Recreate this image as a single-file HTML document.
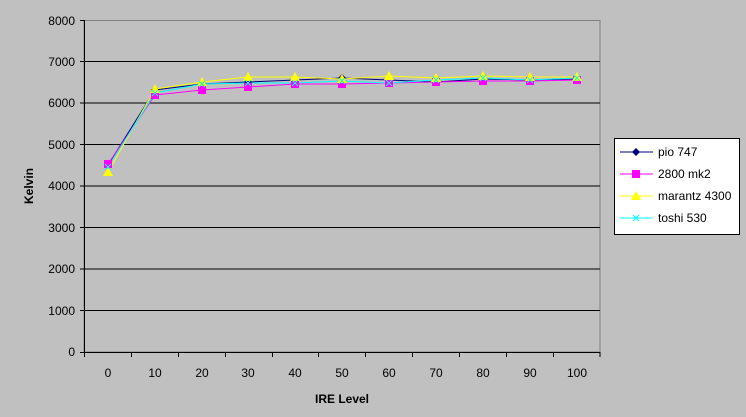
<!DOCTYPE html>
<html><head><meta charset="utf-8"><style>
html,body{margin:0;padding:0;background:#c0c0c0;}
svg{display:block;font-family:"Liberation Sans",Arial,sans-serif;}
</style></head><body>
<svg width="746" height="417" viewBox="0 0 746 417" xmlns="http://www.w3.org/2000/svg">
<rect width="746" height="417" fill="#c0c0c0"/>
<rect x="84" y="20.5" width="516" height="331.5" fill="#c0c0c0" stroke="#808080" stroke-width="1"/>
<g stroke="#000" stroke-width="1">
<line x1="84" y1="61.5" x2="600" y2="61.5"/>
<line x1="84" y1="103" x2="600" y2="103"/>
<line x1="84" y1="144.5" x2="600" y2="144.5"/>
<line x1="84" y1="186" x2="600" y2="186"/>
<line x1="84" y1="227.5" x2="600" y2="227.5"/>
<line x1="84" y1="269" x2="600" y2="269"/>
<line x1="84" y1="310.5" x2="600" y2="310.5"/>
<line x1="84.5" y1="20" x2="84.5" y2="352"/>
<line x1="84" y1="352.5" x2="600" y2="352.5"/>
<g>
<line x1="80" y1="20.5" x2="84" y2="20.5"/><line x1="80" y1="61.5" x2="84" y2="61.5"/><line x1="80" y1="103" x2="84" y2="103"/><line x1="80" y1="144.5" x2="84" y2="144.5"/><line x1="80" y1="186" x2="84" y2="186"/><line x1="80" y1="227.5" x2="84" y2="227.5"/><line x1="80" y1="269" x2="84" y2="269"/><line x1="80" y1="310.5" x2="84" y2="310.5"/><line x1="80" y1="352.5" x2="84" y2="352.5"/>
</g>
<g>
<line x1="84.5" y1="352" x2="84.5" y2="357"/><line x1="131.5" y1="352" x2="131.5" y2="357"/><line x1="178.5" y1="352" x2="178.5" y2="357"/><line x1="225.5" y1="352" x2="225.5" y2="357"/><line x1="272.5" y1="352" x2="272.5" y2="357"/><line x1="318.5" y1="352" x2="318.5" y2="357"/><line x1="365.5" y1="352" x2="365.5" y2="357"/><line x1="412.5" y1="352" x2="412.5" y2="357"/><line x1="459.5" y1="352" x2="459.5" y2="357"/><line x1="506.5" y1="352" x2="506.5" y2="357"/><line x1="553.5" y1="352" x2="553.5" y2="357"/><line x1="600" y1="352" x2="600" y2="357"/>
</g>
</g>
<g font-size="12" fill="#000" text-anchor="end">
<text x="75" y="25">8000</text><text x="75" y="66">7000</text><text x="75" y="107">6000</text><text x="75" y="149">5000</text><text x="75" y="190">4000</text><text x="75" y="232">3000</text><text x="75" y="273">2000</text><text x="75" y="315">1000</text><text x="75" y="356">0</text>
</g>
<g font-size="12" fill="#000" text-anchor="middle">
<text x="108" y="377">0</text><text x="155" y="377">10</text><text x="202" y="377">20</text><text x="248" y="377">30</text><text x="295" y="377">40</text><text x="342" y="377">50</text><text x="389" y="377">60</text><text x="436" y="377">70</text><text x="483" y="377">80</text><text x="530" y="377">90</text><text x="577" y="377">100</text>
</g>
<text x="342" y="403" font-size="12" font-weight="bold" text-anchor="middle">IRE Level</text>
<text transform="translate(33,186) rotate(-90)" font-size="12" font-weight="bold" text-anchor="middle">Kelvin</text>

<!-- series -->
<polyline fill="none" stroke="#000080" stroke-width="1" points="108,165 155,90 202,84 248,82 295,80 342,78 389,80 436,82 483,79 530,80 577,79"/>
<polyline fill="none" stroke="#ff00ff" stroke-width="1" points="108,164 155,95 202,90 248,87 295,84 342,84 389,83 436,82 483,81 530,81 577,80"/>
<polyline fill="none" stroke="#ffff00" stroke-width="1" points="108,172 155,89 202,82 248,77 295,77 342,79 389,76 436,78 483,76 530,77 577,77"/>
<polyline fill="none" stroke="#00ffff" stroke-width="1" points="108,167 155,93 202,84 248,83 295,83 342,81 389,83 436,80 483,78 530,80 577,78"/>

<g fill="#000080">
<path d="M108,161l4,4l-4,4l-4,-4z"/><path d="M155,86l4,4l-4,4l-4,-4z"/><path d="M202,80l4,4l-4,4l-4,-4z"/><path d="M248,78l4,4l-4,4l-4,-4z"/><path d="M295,76l4,4l-4,4l-4,-4z"/><path d="M342,74l4,4l-4,4l-4,-4z"/><path d="M389,76l4,4l-4,4l-4,-4z"/><path d="M436,78l4,4l-4,4l-4,-4z"/><path d="M483,75l4,4l-4,4l-4,-4z"/><path d="M530,76l4,4l-4,4l-4,-4z"/><path d="M577,75l4,4l-4,4l-4,-4z"/>
</g>
<g fill="#ff00ff">
<rect x="104" y="160" width="8" height="8"/><rect x="151" y="91" width="8" height="8"/><rect x="198" y="86" width="8" height="8"/><rect x="244" y="83" width="8" height="8"/><rect x="291" y="80" width="8" height="8"/><rect x="338" y="80" width="8" height="8"/><rect x="385" y="79" width="8" height="8"/><rect x="432" y="78" width="8" height="8"/><rect x="479" y="77" width="8" height="8"/><rect x="526" y="77" width="8" height="8"/><rect x="573" y="76" width="8" height="8"/>
</g>
<g fill="#ffff00">
<path d="M108,167l5,9h-10z"/><path d="M155,84l5,9h-10z"/><path d="M202,77l5,9h-10z"/><path d="M248,72l5,9h-10z"/><path d="M295,72l5,9h-10z"/><path d="M342,74l5,9h-10z"/><path d="M389,71l5,9h-10z"/><path d="M436,73l5,9h-10z"/><path d="M483,71l5,9h-10z"/><path d="M530,72l5,9h-10z"/><path d="M577,72l5,9h-10z"/>
</g>
<g stroke="#00ffff" stroke-width="1">
<path d="M105,164l6,6M111,164l-6,6M152,90l6,6M158,90l-6,6M199,81l6,6M205,81l-6,6M245,80l6,6M251,80l-6,6M292,80l6,6M298,80l-6,6M339,78l6,6M345,78l-6,6M386,80l6,6M392,80l-6,6M433,77l6,6M439,77l-6,6M480,75l6,6M486,75l-6,6M527,77l6,6M533,77l-6,6M574,75l6,6M580,75l-6,6"/>
</g>

<!-- legend -->
<rect x="614.5" y="138.5" width="125" height="96" fill="#fff" stroke="#000"/>
<g font-size="12" fill="#000">
<line x1="620" y1="152" x2="653" y2="152" stroke="#000080"/><path d="M636,148l4,4l-4,4l-4,-4z" fill="#000080"/><text x="658" y="156">pio 747</text>
<line x1="620" y1="174" x2="653" y2="174" stroke="#ff00ff"/><rect x="632" y="170" width="8" height="8" fill="#ff00ff"/><text x="658" y="178">2800 mk2</text>
<line x1="620" y1="196" x2="653" y2="196" stroke="#ffff00"/><path d="M636,191l5,9h-10z" fill="#ffff00"/><text x="658" y="200">marantz 4300</text>
<line x1="620" y1="218" x2="653" y2="218" stroke="#00ffff"/><path d="M633,215l6,6M639,215l-6,6" stroke="#00ffff"/><text x="658" y="222">toshi 530</text>
</g>
</svg>
</body></html>
